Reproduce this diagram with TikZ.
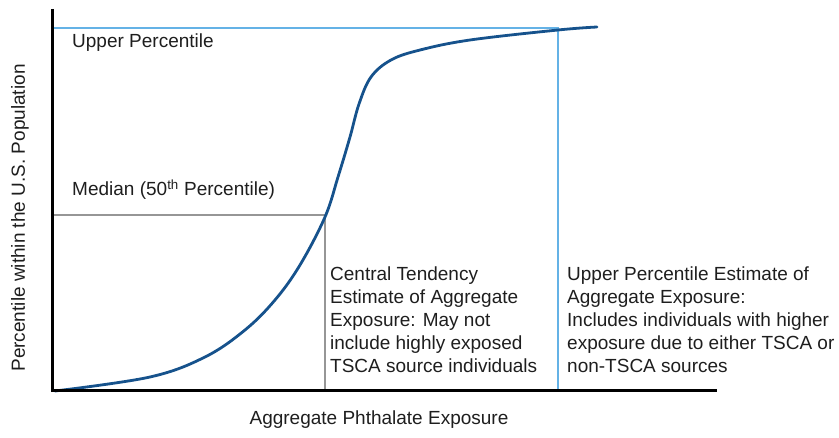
\documentclass[tikz,border=0pt]{standalone}
\usepackage{fontspec}
\setmainfont{Liberation Sans}
\usepackage{tikz}
\usetikzlibrary{positioning}
\tikzset{>=latex}
\definecolor{curveblue}{RGB}{22,82,140}
\definecolor{lightblue}{RGB}{100,178,230}
\definecolor{guidegray}{RGB}{150,150,150}
\definecolor{textgray}{RGB}{30,30,30}
\tikzset{
    axis/.style={line width=3pt, black},
    upperline/.style={line width=2.6pt, lightblue},
    medianline/.style={line width=2.2pt, guidegray},
    lbl/.style={font=\fontsize{19}{23}\selectfont, text=textgray, inner sep=0pt},
}
\begin{document}
\begin{tikzpicture}[x=1pt, y=1pt]
    \useasboundingbox (0, 0) rectangle (839, 437);
    % axes
    \coordinate (O) at (52, 46);
    \coordinate (ytop) at (52, 428);
    \coordinate (xend) at (717, 46);
    % guide lines
    \coordinate (up) at (52, 409);
    \coordinate (upc) at (558, 409);
    \coordinate (upx) at (558, 46);
    \coordinate (med) at (52, 222);
    \coordinate (medc) at (325, 222);
    \coordinate (medx) at (325, 46);
    \draw[upperline](up)--(upc)--(upx);
    \draw[medianline](med)--(medc)--(medx);
    \draw[line width=2.8pt, curveblue, line cap=round] plot[smooth, tension=0.6] coordinates
        {(55, 46) (150, 60) (205, 80) (245, 107) (275, 137) (300, 172) (325, 220) (338, 260) (350, 300) (359, 333) (371, 360) (391, 377) (420, 387) (470, 397) (558, 407) (597, 410)};
    \draw[axis](ytop)--(O)--(xend);
    % labels
    \node[lbl, anchor=west](upl) at (72, 394){Upper Percentile};
    \node[lbl, anchor=west](medl) at (72, 247){Median (50\textsuperscript{th} Percentile)};
    \node[lbl, anchor=north west, align=left](ctl) at (330, 170){Central Tendency\\Estimate of Aggregate\\Exposure: May not\\include highly exposed\\TSCA source individuals};
    \node[lbl, anchor=north west, align=left](upel) at (567, 170){Upper Percentile Estimate of\\Aggregate Exposure:\\Includes individuals with higher\\exposure due to either TSCA or\\non-TSCA sources};
    \node[lbl](xlbl) at (379, 17){Aggregate Phthalate Exposure};
    \node[lbl, rotate=90](ylbl) at (20, 219){Percentile within the U.S. Population};
\end{tikzpicture}
\end{document}
